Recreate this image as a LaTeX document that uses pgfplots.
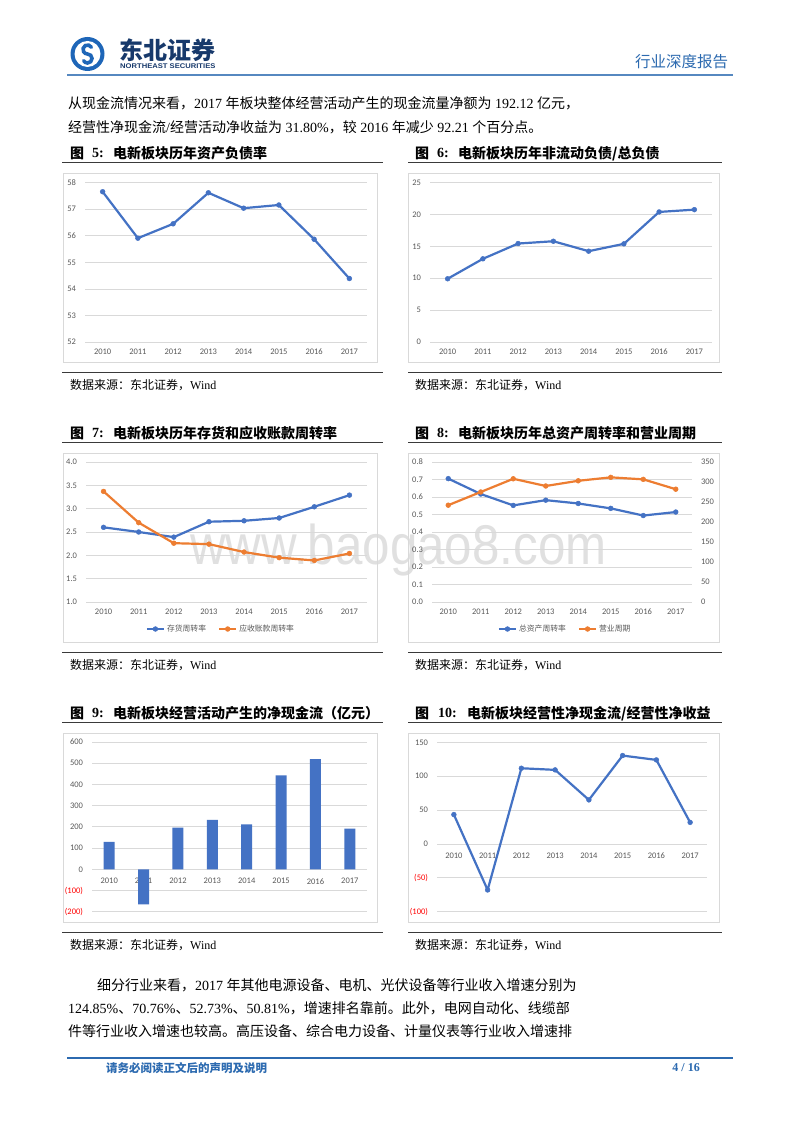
\documentclass[border=0pt]{standalone}
\usepackage{fontspec}
\setmainfont{Liberation Serif}
\newfontfamily\cjk{Noto Sans CJK SC}
\newfontfamily\carlito{Carlito}
\newfontfamily\arialf{Liberation Sans}
\usepackage{pgfplots}
\pgfplotsset{compat=1.18}

\definecolor{xlblue}{HTML}{4472C4}
\definecolor{xlorange}{HTML}{ED7D31}
\definecolor{gridc}{HTML}{D9D9D9}
\definecolor{framec}{HTML}{D9D9D9}
\definecolor{tickc}{HTML}{595959}
\definecolor{negred}{HTML}{FF0000}
\definecolor{hdrblue}{HTML}{2C6AB0}
\definecolor{logoblue}{HTML}{1E66B8}
\definecolor{navy}{HTML}{17396B}
\definecolor{rulec}{HTML}{3A3A3A}
\definecolor{wmark}{HTML}{E0E0E0}

\newcommand{\tickf}{\carlito\fontsize{8.5}{9}\selectfont}
\newcommand{\bodyf}{\fontsize{14}{16}\selectfont}
\newcommand{\titf}{\bfseries\fontsize{14}{16}\selectfont}
\newcommand{\srcf}{\fontsize{12}{14}\selectfont}

\pgfplotsset{
  panel/.style={
    scale only axis, clip=false,
    axis line style={draw=none},
    tick style={draw=none},
    ymajorgrids,
    grid style={gridc, line width=0.75pt},
    xmin=-0.5, xmax=7.5,
    xtick={0,...,7},
    xticklabels={2010,2011,2012,2013,2014,2015,2016,2017},
    ticklabel style={font=\tickf, text=tickc},
    /pgf/number format/assume math mode=true,
    yticklabel style={xshift=-5.5pt},
    xticklabel style={yshift=-3.5pt},
  },
  xlline/.style={color=#1, line width=2.2pt, line join=round,
    mark=*, mark size=2.4pt, mark options={solid, fill=#1, draw=#1, line width=0.5pt}},
  xlleg/.style={legend style={draw=none, fill=none, legend columns=-1,
    font=\cjk\fontsize{7.8}{9}\selectfont, text=tickc,
    /tikz/every even column/.append style={column sep=10pt}}},
}

\begin{document}
\begin{tikzpicture}[x=1pt,y=1pt]
\path[use as bounding box, fill=white] (0,0) rectangle (800,1132);

% header
\fill[logoblue] (87.5,1078) circle (17);
\fill[white] (87.5,1078) circle (13);
\draw[logoblue, line width=3.6pt, line cap=round]
  (91.4,1084.75) arc[start angle=30, end angle=270, radius=4.5]
  arc[start angle=90, end angle=-150, radius=4.5];
\node[anchor=west, inner sep=0, text=navy, font=\cjk\bfseries\fontsize{24}{26}\selectfont] at (119,1082) {东北证券};
\node[anchor=west, inner sep=0, text=navy, xscale=1.12, font=\arialf\bfseries\fontsize{6.8}{7}\selectfont] at (120,1065.5) {NORTHEAST SECURITIES};
\node[anchor=west, inner sep=0, text=hdrblue, font=\cjk\fontsize{15.5}{17}\selectfont] at (635,1070) {行业深度报告};
\draw[hdrblue!80, line width=1.5pt] (67,1057) -- (733,1057);

% intro text
\node[anchor=west, inner sep=0, font=\bodyf] at (68,1029)
  {{\cjk 从现金流情况来看，}2017~{\cjk 年板块整体经营活动产生的现金流量净额为}~192.12~{\cjk 亿元，}};
\node[anchor=west, inner sep=0, font=\bodyf] at (68,1005)
  {{\cjk 经营性净现金流}/{\cjk 经营活动净收益为}~31.80\%{\cjk ，较}~2016~{\cjk 年减少}~92.21~{\cjk 个百分点。}};

% watermark
\node[anchor=base west, inner sep=0, text=wmark, xscale=0.88, font=\arialf\fontsize{56}{56}\selectfont] at (190,567) {www.baogao8.com};

% titles
\foreach \yy/\lx in {978.7/5, 698.7/7, 418.7/9} {
  \node[anchor=west, inner sep=0, font=\cjk\titf] at (70,\yy) {图};
  \node[anchor=west, inner sep=0, font=\titf] at (92,\yy) {\lx:};
  \node[anchor=west, inner sep=0, font=\cjk\titf] at (415,\yy) {图};
}
\node[anchor=west, inner sep=0, font=\titf] at (437,978.7) {6:};
\node[anchor=west, inner sep=0, font=\titf] at (437,698.7) {8:};
\node[anchor=west, inner sep=0, font=\titf] at (438,418.7) {10:};
\node[anchor=west, inner sep=0, font=\cjk\titf] at (113,978.7) {电新板块历年资产负债率};
\node[anchor=west, inner sep=0, font=\cjk\titf] at (458,978.7) {电新板块历年非流动负债/总负债};
\node[anchor=west, inner sep=0, font=\cjk\titf] at (113,698.7) {电新板块历年存货和应收账款周转率};
\node[anchor=west, inner sep=0, font=\cjk\titf] at (458,698.7) {电新板块历年总资产周转率和营业周期};
\node[anchor=west, inner sep=0, font=\cjk\titf] at (113,418.7) {电新板块经营活动产生的净现金流（亿元）};
\node[anchor=west, inner sep=0, font=\cjk\titf] at (467,418.7) {电新板块经营性净现金流/经营性净收益};

% rules, frames, sources
\foreach \ty/\fy/\sy/\bt/\bb in {969.3/759.3/747/959/770, 689.3/479.3/467/679/490, 409.3/199.3/187/399/210} {
  \draw[rulec, line width=1.5pt] (62,\ty) -- (383,\ty);
  \draw[rulec, line width=1.5pt] (408,\ty) -- (722,\ty);
  \draw[rulec, line width=1.5pt] (62,\fy) -- (383,\fy);
  \draw[rulec, line width=1.5pt] (408,\fy) -- (722,\fy);
  \draw[framec, line width=0.75pt] (63,\bb) rectangle (377,\bt);
  \draw[framec, line width=0.75pt] (408,\bb) rectangle (719,\bt);
  \node[anchor=west, inner sep=0, font=\srcf] at (70,\sy) {{\cjk 数据来源：东北证券，}Wind};
  \node[anchor=west, inner sep=0, font=\srcf] at (415,\sy) {{\cjk 数据来源：东北证券，}Wind};
}

% chart 5
\begin{axis}[panel, at={(85pt,790pt)}, anchor=south west, width=282pt, height=159.3pt,
  ymin=52, ymax=58, ytick={52,...,58}]
\addplot[xlline=xlblue] coordinates {(0,57.66)(1,55.91)(2,56.45)(3,57.62)(4,57.04)(5,57.16)(6,55.87)(7,54.39)};
\end{axis}

% chart 6
\begin{axis}[panel, at={(430pt,790pt)}, anchor=south west, width=282pt, height=159.3pt,
  ymin=0, ymax=25, ytick={0,5,...,25}]
\addplot[xlline=xlblue] coordinates {(0,9.92)(1,13.05)(2,15.45)(3,15.81)(4,14.25)(5,15.40)(6,20.41)(7,20.77)};
\end{axis}

% chart 7
\begin{axis}[panel, at={(86pt,530pt)}, anchor=south west, width=281pt, height=140pt,
  ymin=1, ymax=4, ytick={1,1.5,2,2.5,3,3.5,4},
  yticklabel style={/pgf/number format/fixed, /pgf/number format/fixed zerofill, /pgf/number format/precision=1},
  xlleg, legend style={at={(0.48,-0.193)}, anchor=center}]
\addplot[xlline=xlblue] coordinates {(0,2.60)(1,2.50)(2,2.39)(3,2.72)(4,2.74)(5,2.80)(6,3.04)(7,3.29)};
\addlegendentry{存货周转率}
\addplot[xlline=xlorange] coordinates {(0,3.37)(1,2.70)(2,2.26)(3,2.24)(4,2.07)(5,1.95)(6,1.89)(7,2.04)};
\addlegendentry{应收账款周转率}
\end{axis}

% chart 8
\begin{axis}[panel, at={(432pt,530pt)}, anchor=south west, width=260pt, height=140pt,
  ymin=0, ymax=0.8, ytick={0,0.1,0.2,0.3,0.4,0.5,0.6,0.7,0.8},
  yticklabel style={/pgf/number format/fixed, /pgf/number format/fixed zerofill, /pgf/number format/precision=1}]
\addplot[xlline=xlblue] coordinates {(0,0.705)(1,0.617)(2,0.552)(3,0.582)(4,0.563)(5,0.535)(6,0.494)(7,0.514)};
\end{axis}
\begin{axis}[scale only axis, clip=false, at={(432pt,530pt)}, anchor=south west, width=260pt, height=140pt,
  xmin=-0.5, xmax=7.5, axis x line=none, axis y line*=right,
  axis line style={draw=none}, tick style={draw=none},
  ymin=0, ymax=350, ytick={0,50,...,350},
  ticklabel style={font=\tickf, text=tickc}, /pgf/number format/assume math mode=true,
  yticklabel style={xshift=5.5pt},
  xlleg, legend style={at={(0.512,-0.193)}, anchor=center}]
\addlegendimage{xlline=xlblue}
\addlegendentry{总资产周转率}
\addplot[xlline=xlorange] coordinates {(0,242)(1,275)(2,308)(3,290)(4,303)(5,311.6)(6,306.6)(7,282)};
\addlegendentry{营业周期}
\end{axis}

% chart 9
\begin{axis}[panel, at={(92pt,220.3pt)}, anchor=south west, width=275pt, height=169.7pt,
  ymin=-200, ymax=600, ytick={-200,-100,...,600},
  yticklabels={\textcolor{negred}{(200)},\textcolor{negred}{(100)},0,100,200,300,400,500,600},
  axis x line=middle]
\addplot[ybar, bar width=11pt, fill=xlblue, draw=none] coordinates {(0,129)(1,-165)(2,196.5)(3,232.7)(4,212)(5,443)(6,519)(7,192.12)};
\end{axis}

% chart 10
\begin{axis}[panel, at={(437pt,220.3pt)}, anchor=south west, width=270pt, height=169.4pt,
  ymin=-100, ymax=150, ytick={-100,-50,...,150},
  yticklabels={\textcolor{negred}{(100)},\textcolor{negred}{(50)},0,50,100,150},
  axis x line=middle]
\addplot[xlline=xlblue] coordinates {(0,43.3)(1,-67.9)(2,111.7)(3,109.3)(4,65.0)(5,130.4)(6,124.01)(7,31.80)};
\end{axis}

% closing text
\node[anchor=west, inner sep=0, font=\bodyf] at (97,147)
  {{\cjk 细分行业来看，}2017~{\cjk 年其他电源设备、电机、光伏设备等行业收入增速分别为}};
\node[anchor=west, inner sep=0, font=\bodyf] at (68,124)
  {124.85\%{\cjk 、}70.76\%{\cjk 、}52.73\%{\cjk 、}50.81\%{\cjk ，增速排名靠前。此外，电网自动化、线缆部}};
\node[anchor=west, inner sep=0, font=\bodyf] at (68,101)
  {{\cjk 件等行业收入增速也较高。高压设备、综合电力设备、计量仪表等行业收入增速排}};

% footer
\draw[hdrblue, line width=1.2pt] (67,74) -- (733,74);
\node[anchor=west, inner sep=0, text=hdrblue, font=\cjk\bfseries\fontsize{11.5}{13}\selectfont] at (106,64) {请务必阅读正文后的声明及说明};
\node[anchor=east, inner sep=0, text=hdrblue, font=\bfseries\fontsize{12}{14}\selectfont] at (700,64) {4 / 16};
\end{tikzpicture}
\end{document}
